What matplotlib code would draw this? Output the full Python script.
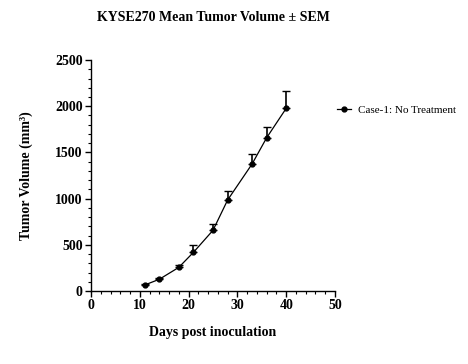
import numpy as np
import matplotlib
matplotlib.use("Agg")
import matplotlib.pyplot as plt
from matplotlib.ticker import MultipleLocator
from matplotlib.lines import Line2D

# dados
dias = [11, 14, 18, 21, 25, 28, 33, 36, 40]
volume_medio = [65, 127, 256, 419, 657, 985, 1374, 1659, 1977]
sem = [10, 15, 25, 80, 70, 100, 110, 115, 190]
rotulo = "Case-1: No Treatment"

plt.rcParams['font.family'] = ['Liberation Serif', 'DejaVu Serif']

fig = plt.figure(figsize=(4.68, 3.64), dpi=100)
ax = fig.add_axes([0.1944, 0.2005, 0.5214, 0.6346])

# barras de erro só para cima
erro = [np.zeros(len(sem)), sem]
ax.errorbar(dias, volume_medio, yerr=erro, color='black', marker='o',
            markersize=3.5, linewidth=0.9, elinewidth=1.2, capsize=3,
            capthick=1.0)

ax.set_xlim(0, 50)
ax.set_ylim(0, 2500)
ax.xaxis.set_major_locator(MultipleLocator(10))
ax.xaxis.set_minor_locator(MultipleLocator(2))
ax.yaxis.set_major_locator(MultipleLocator(500))
ax.yaxis.set_minor_locator(MultipleLocator(100))

for lado in ['top', 'right']:
    ax.spines[lado].set_visible(False)
for lado in ['left', 'bottom']:
    ax.spines[lado].set_linewidth(1.0)

ax.tick_params(which='major', length=4, width=1.0, labelsize=10, pad=2)
ax.tick_params(which='minor', length=2.5, width=0.8)
for lbl in ax.get_xticklabels() + ax.get_yticklabels():
    lbl.set_fontweight('bold')

ax.set_title("KYSE270 Mean Tumor Volume \u00b1 SEM", fontsize=10,
             fontweight='bold', pad=28)
ax.set_xlabel("Days post inoculation", fontsize=10, fontweight='bold', labelpad=10)
ax.set_ylabel("Tumor Volume (mm\u00b3)", fontsize=10, fontweight='bold', labelpad=16)

# legenda só com linha e marcador
handle = Line2D([], [], color='black', marker='o', markersize=3.5, linewidth=0.9)
ax.legend([handle], [rotulo], loc='center left', bbox_to_anchor=(0.698, 0.698),
          bbox_transform=fig.transFigure, frameon=False, fontsize=8,
          handlelength=1.3, handletextpad=0.6)

fig.savefig("out.png", dpi=100)
